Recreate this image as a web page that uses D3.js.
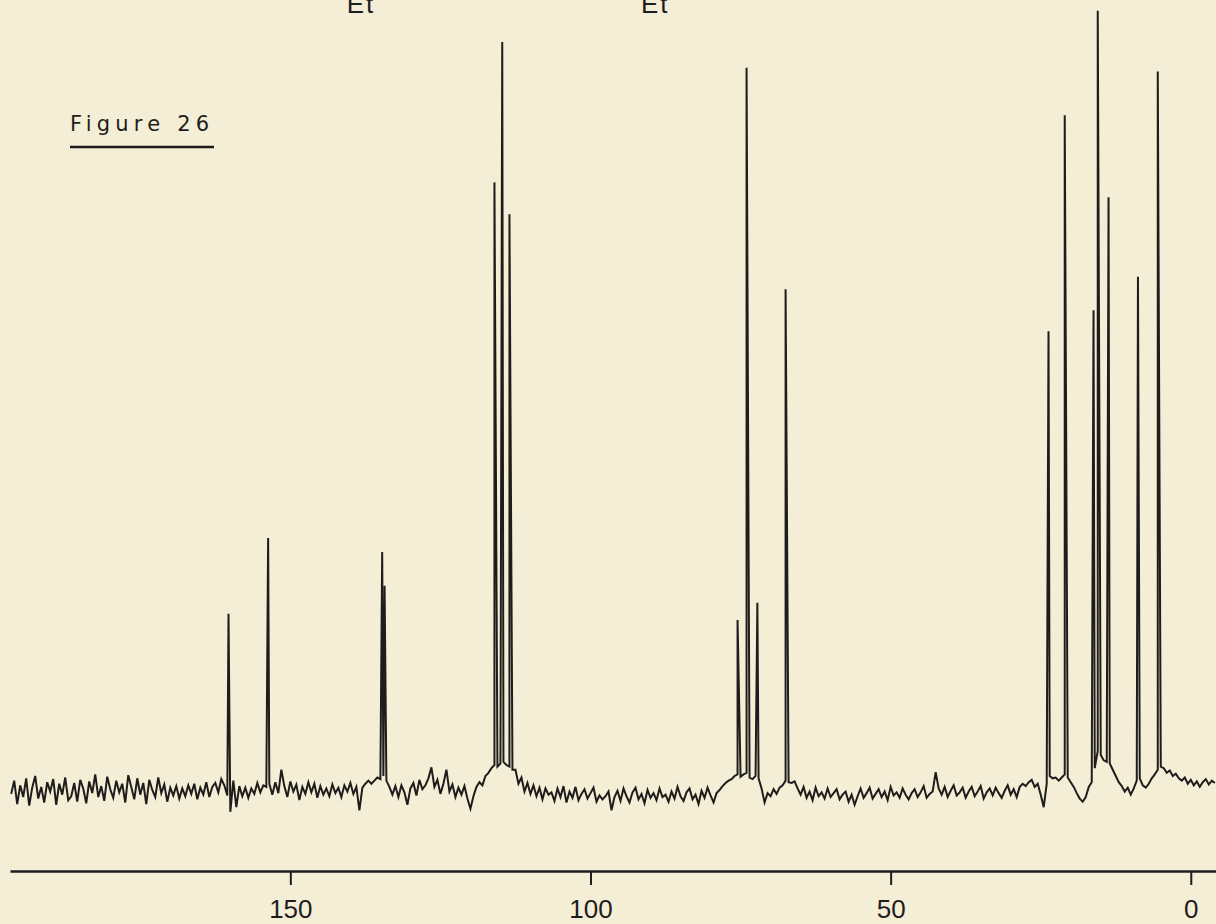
<!DOCTYPE html>
<html>
<head>
<meta charset="utf-8">
<script src="https://cdn.jsdelivr.net/npm/d3@7"></script>
<style>
  html, body { margin: 0; padding: 0; background: #f4eed7; }
  svg { display: block; }
</style>
</head>
<body>
<svg id="chart" width="1216" height="924"></svg>
<script>
// 13C spectrum, ppm axis runs right to left
const tickValues = [150, 100, 50, 0];
const topLabels = ["Et", "Et"];
const topLabelPpm = [140.6, 91.6];
const figureTitle = "Figure 26";

// peak positions (ppm) and heights (0-100)
const peakPpm    = [160.3, 153.7, 134.7, 134.3, 116.0, 114.7, 113.5, 75.5, 74.0, 72.2, 67.5, 23.7, 21.0, 16.2, 15.5, 13.7, 8.8, 5.5];
const peakHeight = [22.6,  32.3,  30.5,  26.2,  77.9,  95.9,  73.8,  21.8, 92.6, 24.0, 64.2, 58.8, 86.5, 61.5, 99.9, 76.0, 65.8, 92.1];

// baseline (noise) read every 0.5 ppm from 196.5 down to -4
const baseStart = 196.5;
const baseStep = 0.5;
const baseline = [
  -0.5, 1.2, -1.8, 0.6, -0.9, 1.5, -2.0, 0.3, 1.8, -1.1, 0.4, -1.6, 1.0, -0.2, 1.4, -1.9, 0.8, -0.6, 1.6, -1.3,
  -0.8, 0.9, -1.5, 1.3, 0.2, -1.7, 1.1, -0.4, 2.0, -0.9, 0.5, -1.4, 1.7, 0.1, -1.0, 1.2, -0.3, 0.8, -1.6, 1.9,
  0.4, -1.2, 1.5, -0.6, 0.9, -1.8, 1.3, 0.0, -0.9, 1.6, -0.4, 0.7, -1.5, 0.3, -0.7, 0.5, -1.1, 0.2, -0.8, 0.6,
  -0.5, 0.8, -1.2, 0.3, -0.6, 1.0, -0.9, 0.4, 0.9, -0.3, 1.4, 0.6, -0.7, -2.8, 1.2, -2.2, 0.5, -0.8, 0.3, -1.0,
  0.2, -0.5, 0.9, -0.3, 0.6, 0.4, 0.8, -0.6, 1.0, -0.4, 2.6, 0.5, -0.9, 1.1, -0.2, 0.7, -1.3, 0.4, -0.5, 1.0,
  -0.3, 0.8, -1.0, 0.5, -0.6, 0.2, -0.8, 0.7, -0.4, 0.3, -0.9, 0.6, -0.2, 0.9, -0.5, 0.4, -2.6, 0.3, 0.8, 1.2,
  0.8, 1.2, 1.6, 1.4, 1.8, 1.2, 0.4, -0.6, 0.5, -0.9, 0.6, -0.3, -1.9, 0.2, 0.9, -0.7, 1.3, 0.1, 0.6, 1.5,
  2.9, 0.4, 1.3, -0.5, 0.8, 2.6, -0.2, 0.7, -0.9, 0.3, -0.6, 0.5, -1.1, -2.4, -0.8, 0.4, 1.0, 0.6, 1.8, 2.2,
  2.8, 3.2, 3.0, 3.4, 3.6, 3.2, 3.0, 2.6, 2.6, 0.8, 1.6, -0.2, 0.9, -0.5, 0.6, -0.8, 0.3, -1.2, 0.2, -0.6,
  -0.3, -1.4, 0.2, -0.9, 0.5, -1.6, -0.2, -1.0, 0.4, -1.3, -0.5, 0.1, -1.1, -0.4, 0.3, -1.5, -0.7, -1.2, -0.8, -0.2,
  -2.6, -0.9, -0.1, -1.4, 0.2, -0.8, -1.6, -0.3, 0.3, -1.2, -0.5, -1.7, 0.0, -1.0, -0.4, -1.3, 0.2, -0.9, -0.6, -1.5,
  -0.2, -1.1, 0.4, -0.8, -1.4, -0.3, 0.2, -1.2, -0.6, -1.8, -0.1, -1.0, 0.3, -0.7, -1.6, -0.4, 0.0, 0.5, 0.9, 1.2,
  1.4, 1.8, 2.0, 1.7, 2.0, 2.2, 1.6, 1.4, 1.8, 1.5, 0.2, -1.6, -0.4, -0.8, 0.1, -0.5, 0.3, 0.6, 1.2, 1.0,
  0.9, 1.1, 0.2, -0.6, 0.4, -1.0, -0.2, -1.3, 0.3, -0.8, -0.3, -1.1, 0.2, -0.9, -0.4, 0.1, -1.2, -0.6, -0.2, -1.5,
  -0.6, -1.9, -0.8, 0.2, -1.0, -0.4, 0.3, -1.1, -0.5, 0.1, -0.9, -0.2, -1.3, 0.4, -0.7, -0.3, -1.0, 0.2, -0.6, -1.2,
  -0.4, 0.1, -0.9, -0.3, 0.5, -1.0, -0.5, -0.2, 2.3, 0.2, -0.6, 0.4, -0.9, -0.1, 0.6, -0.7, -0.3, 0.3, -1.0, -0.2,
  0.4, -0.8, -0.2, 0.5, -1.1, -0.3, 0.2, -0.7, 0.3, -0.4, -1.0, -0.1, 0.6, -0.6, 0.1, -0.9, 0.4, 0.8, 0.5, 1.0,
  1.3, 0.4, 0.8, -0.6, -2.2, 0.8, 1.8, 1.5, 1.6, 1.2, 1.6, 2.0, 1.6, 1.0, 0.4, -0.4, -1.1, -1.5, -0.9, 0.4,
  1.0, 2.8, 5.0, 4.5, 3.8, 3.6, 3.4, 2.6, 1.8, 1.0, 0.5, -0.2, 0.3, -0.6, 0.2, 1.2, 1.5, 0.6, 0.3, 0.8,
  1.5, 2.0, 2.6, 3.0, 2.8, 2.2, 2.5, 1.8, 2.1, 1.5, 1.2, 1.6, 0.8, 1.3, 0.6, 1.1, 0.4, 1.0, 1.4, 0.7,
  1.2, 0.9
];

const width = 1216, height = 924;
const svg = d3.select("#chart");
const ink = "#1f1d1b";

const x = d3.scaleLinear().domain([196.7, -4.2]).range([10, 1216]);
const y = d3.scaleLinear().domain([0, 100]).range([790, 10]);

// merge baseline and peaks into one trace
const points = baseline.map((v, i) => ({ ppm: baseStart - i * baseStep, v: v }))
  .concat(peakPpm.map((p, i) => ({ ppm: p, v: peakHeight[i] })));
points.sort((a, b) => b.ppm - a.ppm);

const line = d3.line()
  .x(d => x(d.ppm))
  .y(d => y(d.v));

svg.append("path")
  .datum(points)
  .attr("d", line)
  .attr("fill", "none")
  .attr("stroke", ink)
  .attr("stroke-width", 2)
  .attr("stroke-linejoin", "miter");

// ppm axis
const axis = svg.append("g")
  .attr("transform", "translate(0,871)")
  .call(d3.axisBottom(x).tickValues(tickValues).tickSize(14).tickSizeOuter(0).tickFormat(d3.format("d")));
axis.select(".domain").attr("stroke", ink).attr("stroke-width", 2.4);
axis.selectAll(".tick line").attr("stroke", ink).attr("stroke-width", 2);
axis.selectAll(".tick text")
  .attr("y", 47)
  .attr("dy", null)
  .attr("fill", ink)
  .style("font-family", "'Liberation Sans', Arial, sans-serif")
  .style("font-size", "26px");

// structure labels cut off at the top of the page
svg.selectAll(".et")
  .data(topLabels)
  .join("text")
  .attr("class", "et")
  .attr("x", (d, i) => x(topLabelPpm[i]))
  .attr("y", 13)
  .attr("fill", ink)
  .style("font-family", "'Liberation Sans', Arial, sans-serif")
  .style("font-size", "26px")
  .style("letter-spacing", "2px")
  .text(d => d);

// figure caption with underline
svg.append("text")
  .attr("x", 70)
  .attr("y", 131)
  .attr("fill", ink)
  .style("font-family", "'DejaVu Sans', sans-serif")
  .style("font-size", "21px")
  .style("letter-spacing", "5.2px")
  .text(figureTitle);

svg.append("line")
  .attr("x1", 70).attr("x2", 214)
  .attr("y1", 147).attr("y2", 147)
  .attr("stroke", ink)
  .attr("stroke-width", 2.4);
</script>
</body>
</html>
